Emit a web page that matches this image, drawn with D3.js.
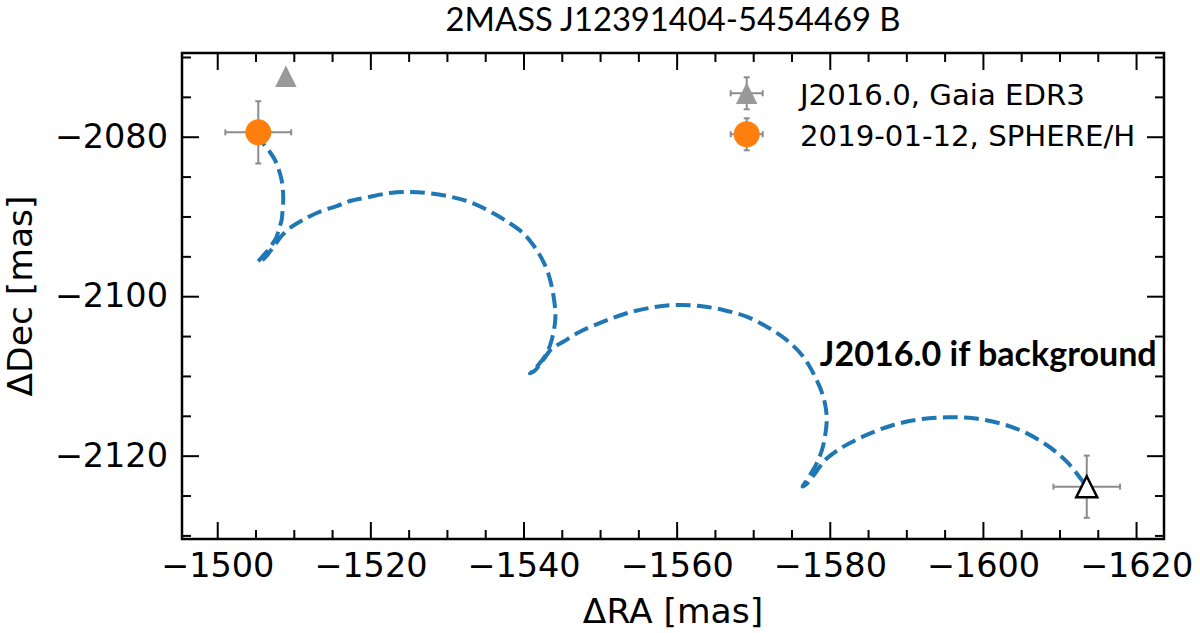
<!DOCTYPE html>
<html><head><meta charset="utf-8">
<script src="https://cdn.jsdelivr.net/npm/d3@7"></script>
<style>body{margin:0;background:#fff} svg{display:block}</style>
</head><body>
<svg id="chart" width="1200" height="633"></svg>
<script>
// ---------- data ----------
const titleText = "2MASS J12391404-5454469 B";
const xLabel = "ΔRA [mas]";
const yLabel = "ΔDec [mas]";
const annotationText = "J2016.0 if background";
const annotationPos = [-1578.7, -2108.75];

const xLimits = [-1495.4, -1623.65];
const yLimits = [-2130.45, -2069.5];
const xMajorTicks = [-1500, -1520, -1540, -1560, -1580, -1600, -1620];
const xMinorTicks = [-1505, -1510, -1515, -1525, -1530, -1535, -1545, -1550, -1555, -1565, -1570, -1575, -1585, -1590, -1595, -1605, -1610, -1615];
const yMajorTicks = [-2080, -2100, -2120];
const yMinorTicks = [-2070, -2075, -2085, -2090, -2095, -2105, -2110, -2115, -2125, -2130];

// background track, RA / Dec in mas
const trackRA = [-1505.36,-1505.97,-1506.88,-1507.54,-1508.06,-1508.41,-1508.58,-1508.62,-1508.54,-1508.41,-1508.06,-1507.76,-1507.21,-1506.66,-1505.97,-1505.45,-1505.25,
  -1505.84,-1506.49,-1507.14,-1507.80,-1508.45,-1509.50,-1511.19,-1513.15,-1515.60,-1517.33,-1519.51,-1522.56,-1525.17,-1527.78,-1530.83,-1533.44,-1536.05,-1538.23,-1539.97,-1541.27,-1542.37,-1543.23,-1543.78,-1544.11,-1544.17,-1544.11,-1543.68,-1543.03,-1541.93,-1541.24,-1540.84,
  -1541.50,-1542.15,-1542.80,-1543.46,-1544.24,-1545.19,-1547.37,-1550.42,-1553.47,-1556.95,-1560.01,-1563.05,-1566.09,-1569.15,-1571.76,-1574.37,-1576.54,-1578.07,-1579.15,-1579.60,-1579.37,-1578.98,-1578.29,-1577.42,-1576.76,-1576.44,
  -1576.96,-1577.48,-1578.07,-1578.72,-1579.64,-1581.77,-1584.82,-1588.30,-1591.78,-1595.27,-1598.75,-1602.23,-1605.28,-1608.33,-1610.95,-1612.91,-1613.56];
const trackDec = [-2079.45,-2080.79,-2081.92,-2082.92,-2084.18,-2085.43,-2086.68,-2087.94,-2089.19,-2090.45,-2091.57,-2092.54,-2093.45,-2094.21,-2094.96,-2095.52,-2095.71,
  -2095.52,-2094.90,-2094.08,-2093.20,-2092.39,-2091.45,-2090.45,-2089.50,-2088.69,-2088.06,-2087.62,-2087.06,-2086.93,-2087.10,-2087.60,-2088.35,-2089.61,-2090.86,-2092.11,-2093.58,-2095.25,-2097.13,-2099.22,-2101.32,-2102.36,-2103.40,-2105.49,-2107.16,-2108.63,-2109.38,-2109.69,
  -2109.32,-2108.56,-2107.69,-2106.81,-2106.24,-2105.71,-2104.45,-2103.20,-2102.14,-2101.39,-2101.10,-2101.23,-2101.73,-2102.57,-2103.82,-2105.49,-2107.59,-2110.09,-2112.60,-2115.11,-2117.62,-2119.29,-2120.95,-2122.42,-2123.42,-2123.86,
  -2123.55,-2122.92,-2122.23,-2121.35,-2120.33,-2118.87,-2117.40,-2116.15,-2115.44,-2115.19,-2115.31,-2115.94,-2116.99,-2118.66,-2120.75,-2123.05,-2123.89];

const gaiaRA = -1508.97, gaiaDec = -2072.43;
const sphereRA = -1505.36, sphereDec = -2079.45, sphereErrRA = 4.3, sphereErrDec = 3.9;
const bgRA = -1613.56, bgDec = -2123.89, bgErrRA = 4.35, bgErrDec = 3.9;

const legendLabels = ["J2016.0, Gaia EDR3", "2019-01-12, SPHERE/H"];

// ---------- styles ----------
const BLUE = "#1f77b4", ORANGE = "#ff7f0e", GRAYM = "#999999", GRAYE = "#8c8c8c";
const TICKFONT = "DejaVu Sans";

const svg = d3.select("#chart");
const L = 182, R = 1164, T = 53, B = 539;
const x = d3.scaleLinear().domain(xLimits).range([L, R]);
const y = d3.scaleLinear().domain(yLimits).range([B, T]);

function styleAxis(g, fs) {
  g.select(".domain").remove();
  g.selectAll(".tick line").attr("stroke", "#000").attr("stroke-width", 2);
  g.attr("font-family", TICKFONT).attr("font-size", fs);
  g.selectAll("text").attr("fill", "#000");
}

// bottom
svg.append("g").attr("transform", `translate(0,${B})`)
  .call(d3.axisBottom(x).tickValues(xMinorTicks).tickSize(-9).tickSizeOuter(0).tickFormat(""))
  .call(g => styleAxis(g, 33.5));
svg.append("g").attr("transform", `translate(0,${B})`)
  .call(d3.axisBottom(x).tickValues(xMajorTicks).tickSize(-17).tickSizeOuter(0).tickPadding(14).tickFormat(d3.format("d")))
  .call(g => styleAxis(g, 33.5));
// top
svg.append("g").attr("transform", `translate(0,${T})`)
  .call(d3.axisTop(x).tickValues(xMinorTicks).tickSize(-9).tickSizeOuter(0).tickFormat(""))
  .call(g => styleAxis(g, 33.5));
svg.append("g").attr("transform", `translate(0,${T})`)
  .call(d3.axisTop(x).tickValues(xMajorTicks).tickSize(-17).tickSizeOuter(0).tickFormat(""))
  .call(g => styleAxis(g, 33.5));
// left
svg.append("g").attr("transform", `translate(${L},0)`)
  .call(d3.axisLeft(y).tickValues(yMinorTicks).tickSize(-9).tickSizeOuter(0).tickFormat(""))
  .call(g => styleAxis(g, 33.5));
svg.append("g").attr("transform", `translate(${L},0)`)
  .call(d3.axisLeft(y).tickValues(yMajorTicks).tickSize(-17).tickSizeOuter(0).tickPadding(14).tickFormat(d3.format("d")))
  .call(g => styleAxis(g, 33.5));
// right
svg.append("g").attr("transform", `translate(${R},0)`)
  .call(d3.axisRight(y).tickValues(yMinorTicks).tickSize(-9).tickSizeOuter(0).tickFormat(""))
  .call(g => styleAxis(g, 33.5));
svg.append("g").attr("transform", `translate(${R},0)`)
  .call(d3.axisRight(y).tickValues(yMajorTicks).tickSize(-17).tickSizeOuter(0).tickFormat(""))
  .call(g => styleAxis(g, 33.5));

// frame
svg.append("rect").attr("x", L).attr("y", T).attr("width", R - L).attr("height", B - T)
  .attr("fill", "none").attr("stroke", "#000").attr("stroke-width", 2.5);

// track
const trackPts = trackRA.map((v, i) => [v, trackDec[i]]);
svg.append("path").datum(trackPts)
  .attr("d", d3.line().x(d => x(d[0])).y(d => y(d[1])).curve(d3.curveCatmullRom.alpha(0.5)))
  .attr("fill", "none").attr("stroke", BLUE).attr("stroke-width", 4)
  .attr("stroke-dasharray", "14.8 6.4");

// error bars
function errbar(g, cx, cy, dx, dy, cap) {
  const s = { stroke: GRAYE, w: 2 };
  const ln = (x1, y1, x2, y2) => g.append("line").attr("x1", x1).attr("y1", y1).attr("x2", x2).attr("y2", y2)
    .attr("stroke", s.stroke).attr("stroke-width", s.w);
  ln(cx - dx, cy, cx + dx, cy);
  ln(cx, cy - dy, cx, cy + dy);
  ln(cx - dx, cy - cap, cx - dx, cy + cap);
  ln(cx + dx, cy - cap, cx + dx, cy + cap);
  ln(cx - cap, cy - dy, cx + cap, cy - dy);
  ln(cx - cap, cy + dy, cx + cap, cy + dy);
}
function tri(cx, cy, s) {
  const h = s / 2;
  return `M${cx},${cy - h}L${cx - h},${cy + h}L${cx + h},${cy + h}Z`;
}
const marks = svg.append("g");
errbar(marks, x(sphereRA), y(sphereDec),
  Math.abs(x(sphereRA + sphereErrRA) - x(sphereRA)), Math.abs(y(sphereDec + sphereErrDec) - y(sphereDec)), 3);
errbar(marks, x(bgRA), y(bgDec),
  Math.abs(x(bgRA + bgErrRA) - x(bgRA)), Math.abs(y(bgDec + bgErrDec) - y(bgDec)), 3);

marks.append("path").attr("d", tri(x(gaiaRA), y(gaiaDec), 21.5)).attr("fill", GRAYM);
marks.append("circle").attr("cx", x(sphereRA)).attr("cy", y(sphereDec)).attr("r", 13).attr("fill", ORANGE);
marks.append("path").attr("d", tri(x(bgRA), y(bgDec), 21)).attr("fill", "#fff")
  .attr("stroke", "#000").attr("stroke-width", 2.5).attr("stroke-linejoin", "miter");

// legend
const lg = svg.append("g");
const lgX = 746.7, lgY = [93.3, 134.3];
errbar(lg, lgX, lgY[0], 16, 16, 3);
lg.append("path").attr("d", tri(lgX, lgY[0], 21.5)).attr("fill", GRAYM);
errbar(lg, lgX, lgY[1], 16, 16, 3);
lg.append("circle").attr("cx", lgX).attr("cy", lgY[1]).attr("r", 13).attr("fill", ORANGE);
legendLabels.forEach((t, i) => {
  lg.append("text").attr("x", 800).attr("y", lgY[i] + 11.2).text(t)
    .attr("font-family", TICKFONT).attr("font-size", 29.2).attr("fill", "#000");
});

// helper to fit text width
function fitWidth(sel, target) {
  const w = sel.node().getComputedTextLength();
  const fs = parseFloat(sel.attr("font-size"));
  sel.attr("font-size", fs * target / w);
}

// annotation
const ann = svg.append("text").attr("x", x(annotationPos[0])).attr("y", y(annotationPos[1]))
  .attr("font-family", "Lato, 'Open Sans', sans-serif").attr("font-weight", "bold")
  .attr("font-size", 32).attr("fill", "#000").text(annotationText);
fitWidth(ann, 337);

// title
const title = svg.append("text").attr("x", (L + R) / 2).attr("y", 31).attr("text-anchor", "middle")
  .attr("font-family", "Lato, 'Open Sans', sans-serif").attr("font-size", 30).attr("fill", "#000").text(titleText);
fitWidth(title, 455);

// axis labels
svg.append("text").attr("x", (L + R) / 2).attr("y", 623).attr("text-anchor", "middle")
  .attr("font-family", TICKFONT).attr("font-size", 34.5).attr("fill", "#000").text(xLabel);
svg.append("text").attr("transform", `translate(31.5,${(T + B) / 2}) rotate(-90)`).attr("text-anchor", "middle")
  .attr("font-family", TICKFONT).attr("font-size", 34.5).attr("fill", "#000").text(yLabel);
</script>
</body></html>
